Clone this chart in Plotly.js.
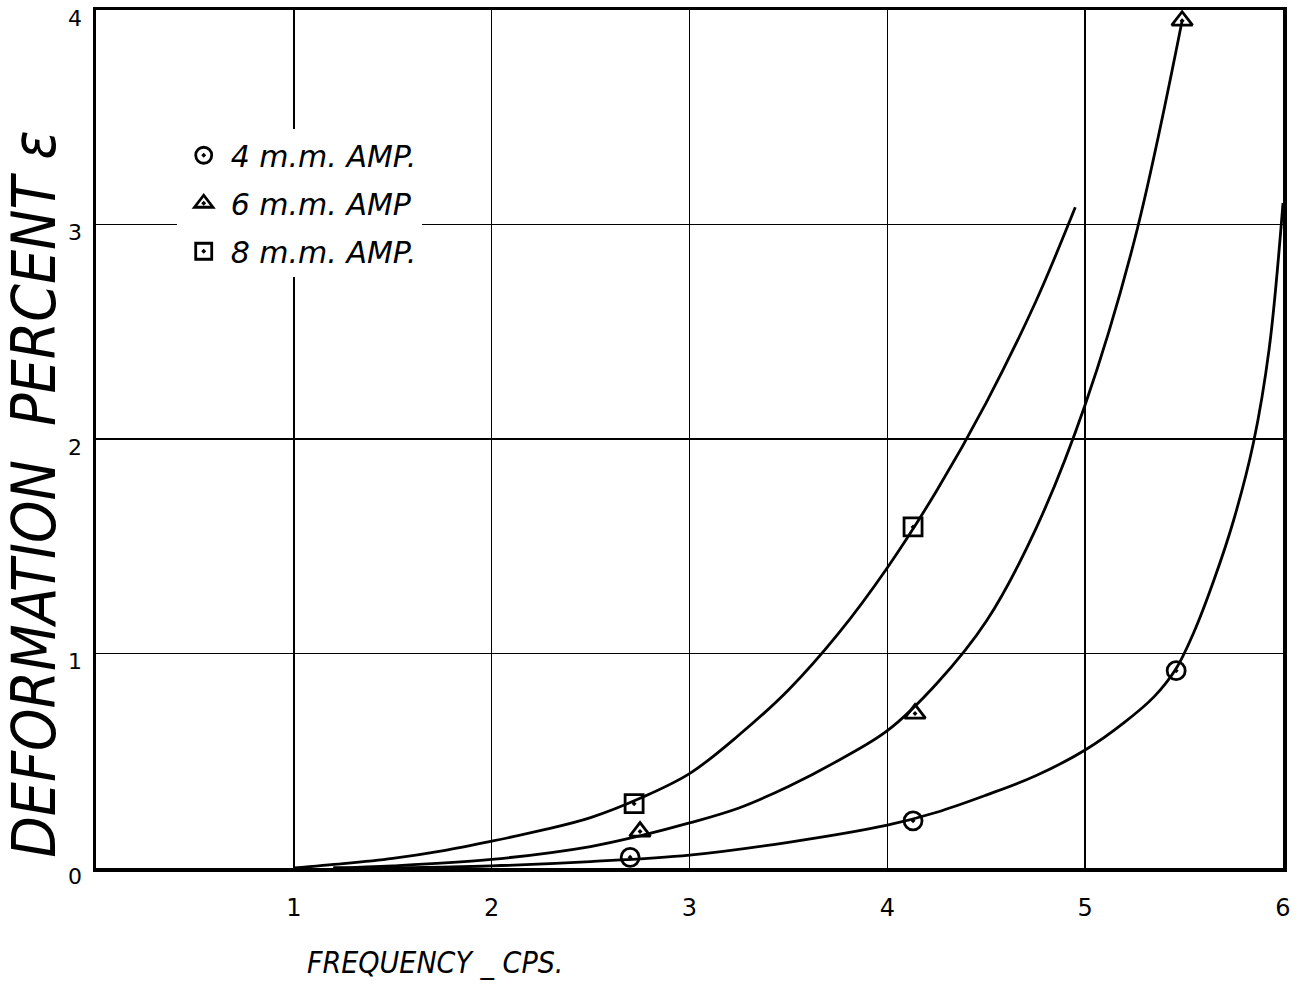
<!DOCTYPE html>
<html>
<head>
<meta charset="utf-8">
<script src="https://cdn.plot.ly/plotly-3.0.1.min.js"></script>
<style>html,body{margin:0;padding:0;background:#fff;}#chart{width:1308px;height:994px;}</style>
</head>
<body>
<div id="chart"></div>
<script>
// Measured points
const seriesNames = ["4 m.m. AMP.", "6 m.m. AMP", "8 m.m. AMP."];
const amp4X = [2.70, 4.13, 5.46, 6.02];
const amp4Y = [0.05, 0.22, 0.92, 3.23];
const amp6X = [2.75, 4.14, 5.49];
const amp6Y = [0.17, 0.72, 3.95];
const amp8X = [2.72, 4.13];
const amp8Y = [0.30, 1.59];

// Hand-drawn fitted curves
const curve4X = [1.2, 1.5, 2.0, 2.5, 3.0, 3.5, 4.0, 4.25, 4.5, 4.75, 5.0, 5.2, 5.35, 5.46, 5.55, 5.65, 5.75, 5.85, 5.93, 6.0];
const curve4Y = [0.0, 0.0, 0.01, 0.03, 0.06, 0.12, 0.20, 0.26, 0.34, 0.43, 0.55, 0.68, 0.80, 0.93, 1.10, 1.34, 1.62, 1.98, 2.42, 3.10];
const curve6X = [1.2, 1.5, 2.0, 2.5, 2.75, 3.0, 3.25, 3.5, 3.75, 4.0, 4.25, 4.5, 4.75, 5.0, 5.25, 5.49];
const curve6Y = [0.0, 0.01, 0.04, 0.10, 0.15, 0.21, 0.28, 0.38, 0.50, 0.64, 0.86, 1.15, 1.58, 2.16, 2.93, 3.95];
const curve8X = [1.0, 1.25, 1.5, 1.75, 2.0, 2.25, 2.5, 2.75, 3.0, 3.25, 3.5, 3.75, 4.0, 4.25, 4.5, 4.75, 4.95];
const curve8Y = [0.0, 0.02, 0.045, 0.08, 0.125, 0.175, 0.235, 0.325, 0.44, 0.62, 0.83, 1.09, 1.40, 1.76, 2.17, 2.64, 3.08];

const xTicks = [1, 2, 3, 4, 5, 6];
const yTicks = [0, 1, 2, 3, 4];

const ink = "#000";
const hand = "DejaVu Sans, sans-serif";
const handCond = "DejaVu Sans Condensed, DejaVu Sans, sans-serif";

function curve(x, y) {
  return {x: x, y: y, mode: "lines", type: "scatter", showlegend: false, hoverinfo: "skip",
    line: {color: ink, width: 2.8, shape: "spline", smoothing: 1}};
}
function pts(x, y, sym, name, grp) {
  return {x: x, y: y, mode: "markers", type: "scatter", name: name, legendgroup: grp,
    marker: {symbol: sym, size: 18, color: ink, line: {color: ink, width: 2.8}}, cliponaxis: false};
}

const data = [
  curve(curve4X, curve4Y), curve(curve6X, curve6Y), curve(curve8X, curve8Y),
  pts(amp4X, amp4Y, "circle-open-dot", seriesNames[0], "a"),
  pts(amp6X, amp6Y, "triangle-up-open-dot", seriesNames[1], "b"),
  pts(amp8X, amp8Y, "square-open-dot", seriesNames[2], "c")
];

const layout = {
  width: 1308, height: 994,
  margin: {l: 96, r: 25, t: 10, b: 126},
  paper_bgcolor: "#fff", plot_bgcolor: "#fff",
  showlegend: true,
  legend: {x: 0.068, y: 0.861, xanchor: "left", yanchor: "top", bgcolor: "#fff",
    font: {family: hand, size: 30, color: ink, style: "italic"}, tracegroupgap: 6, itemwidth: 44},
  xaxis: {range: [0, 6], tickvals: xTicks, ticktext: xTicks.map(String), ticks: "", showgrid: true,
    gridcolor: ink, gridwidth: 1.4, zeroline: false, showline: true, linecolor: ink, linewidth: 3.5,
    mirror: true, ticklabelstandoff: 16, ticklabeloverflow: "allow",
    tickfont: {family: hand, size: 24, color: ink}},
  yaxis: {range: [0, 4], tickvals: yTicks, ticktext: yTicks.map(String), ticks: "", showgrid: true,
    gridcolor: ink, gridwidth: 1.4, zeroline: false, showline: true, linecolor: ink, linewidth: 3.5,
    mirror: true, ticklabelstandoff: 6, ticklabelshift: 8, ticklabeloverflow: "allow",
    tickfont: {family: hand, size: 22, color: ink}},
  annotations: [
    {text: "DEFORMATION  PERCENT ε", xref: "paper", yref: "paper", x: 0, y: 0.435, xshift: -62,
     textangle: -90, showarrow: false, xanchor: "center", yanchor: "middle",
     font: {family: handCond, size: 60, color: ink, style: "italic"}},
    {text: "FREQUENCY _ CPS.", xref: "paper", yref: "paper", x: 0.286, y: -0.11,
     showarrow: false, xanchor: "center", yanchor: "middle",
     font: {family: handCond, size: 30, color: ink, style: "italic"}}
  ]
};

Plotly.newPlot("chart", data, layout, {displayModeBar: false, staticPlot: true});
</script>
</body>
</html>
